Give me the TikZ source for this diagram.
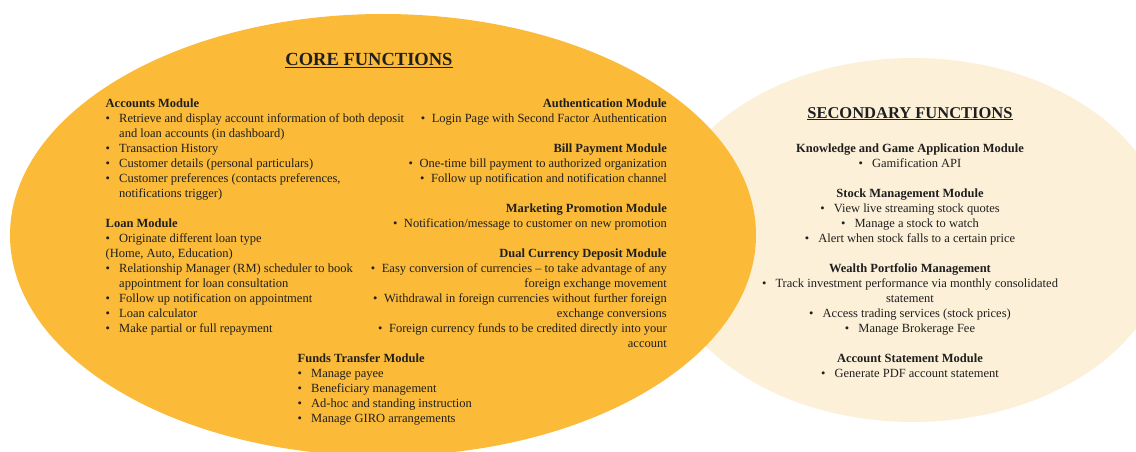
\documentclass[tikz,border=0pt]{standalone}
\usepackage{fontspec}
\setmainfont{Liberation Serif}
\usetikzlibrary{shapes.geometric}
\definecolor{coreyellow}{HTML}{FBBB39}
\definecolor{secondcream}{HTML}{FDF0D8}
\definecolor{inktext}{HTML}{1F1F1F}
\newcommand{\itm}{\makebox[13.5pt][l]{\textbullet}}
\newcommand{\ritm}{\makebox[11pt][l]{\textbullet}}
\newcommand{\cnt}{\hspace*{13.5pt}}
\newcommand{\hd}[1]{\rule{0pt}{10pt}\textbf{#1}}
\begin{document}
\begin{tikzpicture}[x=1pt,y=-1pt,
    area/.style ={ellipse, inner sep = 0pt, draw = none},
    heading/.style ={font=\fontsize{18.5}{22}\selectfont\bfseries, text=inktext, inner sep = 0pt},
    module/.style ={font=\fontsize{12.5}{15}\selectfont, text=inktext, inner sep = 0pt}]
   \useasboundingbox[fill=white] (0,0) rectangle (1136,452);

   \node[area, fill=secondcream, minimum width=510pt, minimum height=364pt] (second) at (913,240) {};
   \node[area, fill=coreyellow, minimum width=746pt, minimum height=442pt] (core) at (383,235) {};

   \node[heading, anchor=base] (coretitle) at (369,65.7) {\underline{CORE FUNCTIONS}};
   \node[heading, anchor=base, font=\fontsize{16.5}{20}\selectfont\bfseries] (secondtitle) at (910,118) {\underline{SECONDARY FUNCTIONS}};

   \node[module, anchor=north west, align=left] (accounts) at (105.5,97) {%
     \hd{Accounts Module}\\
     \itm Retrieve and display account information of both deposit\\
     \cnt and loan accounts (in dashboard)\\
     \itm Transaction History\\
     \itm Customer details (personal particulars)\\
     \itm Customer preferences (contacts preferences,\\
     \cnt notifications trigger)};
   \node[module, anchor=north west, align=left] (loan) at (105.5,217) {%
     \hd{Loan Module}\\
     \itm Originate different loan type\\
     (Home, Auto, Education)\\
     \itm Relationship Manager (RM) scheduler to book\\
     \cnt appointment for loan consultation\\
     \itm Follow up notification on appointment\\
     \itm Loan calculator\\
     \itm Make partial or full repayment};

   \node[module, anchor=north east, align=right] (auth) at (667,97) {%
     \hd{Authentication Module}\\
     \ritm Login Page with Second Factor Authentication};
   \node[module, anchor=north east, align=right] (bill) at (667,142) {%
     \hd{Bill Payment Module}\\
     \ritm One-time bill payment to authorized organization\\
     \ritm Follow up notification and notification channel};
   \node[module, anchor=north east, align=right] (marketing) at (667,202) {%
     \hd{Marketing Promotion Module}\\
     \ritm Notification/message to customer on new promotion};
   \node[module, anchor=north east, align=right] (dual) at (667,247) {%
     \hd{Dual Currency Deposit Module}\\
     \ritm Easy conversion of currencies \textendash\ to take advantage of any\\
     foreign exchange movement\\
     \ritm Withdrawal in foreign currencies without further foreign\\
     exchange conversions\\
     \ritm Foreign currency funds to be credited directly into your\\
     account};
   \node[module, anchor=north west, align=left] (funds) at (297.5,352) {%
     \hd{Funds Transfer Module}\\
     \itm Manage payee\\
     \itm Beneficiary management\\
     \itm Ad-hoc and standing instruction\\
     \itm Manage GIRO arrangements};

   \node[module, anchor=north, align=center] (knowledge) at (910,142) {%
     \hd{Knowledge and Game Application Module}\\
     \itm Gamification API};
   \node[module, anchor=north, align=center] (stock) at (910,187) {%
     \hd{Stock Management Module}\\
     \itm View live streaming stock quotes\\
     \itm Manage a stock to watch\\
     \itm Alert when stock falls to a certain price};
   \node[module, anchor=north, align=center] (wealth) at (910,262) {%
     \hd{Wealth Portfolio Management}\\
     \itm Track investment performance via monthly consolidated\\
     statement\\
     \itm Access trading services (stock prices)\\
     \itm Manage Brokerage Fee};
   \node[module, anchor=north, align=center] (statement) at (910,352) {%
     \hd{Account Statement Module}\\
     \itm Generate PDF account statement};
 \end{tikzpicture}
\end{document}
